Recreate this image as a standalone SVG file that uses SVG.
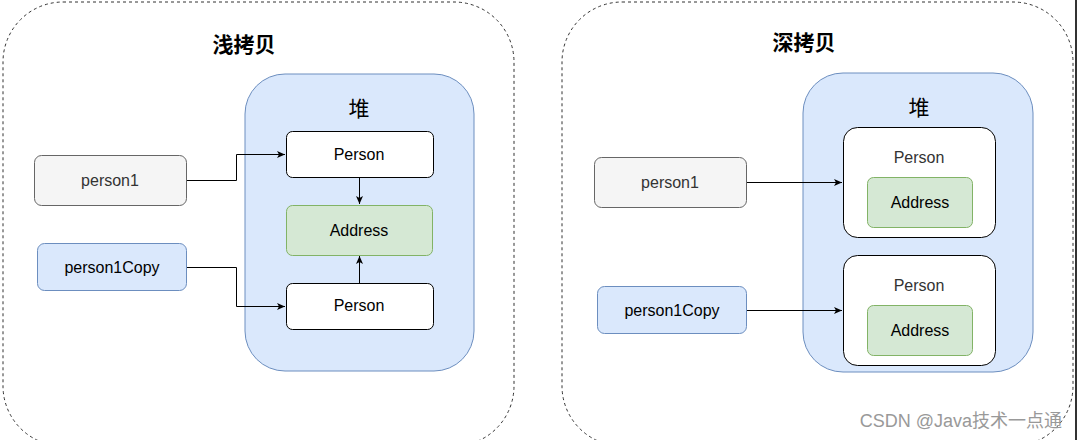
<svg xmlns="http://www.w3.org/2000/svg" width="1077" height="440" viewBox="0 0 1077 440">
<style>
.frame{fill:#fff;stroke:#333;stroke-width:1;stroke-dasharray:3 3}
.heap{fill:#dae8fc;stroke:#6c8ebf;stroke-width:1}
.obj{fill:#fff;stroke:#000;stroke-width:1}
.addr{fill:#d5e8d4;stroke:#82b366;stroke-width:1}
.var{fill:#f5f5f5;stroke:#666;stroke-width:1}
.varc{fill:#dae8fc;stroke:#6c8ebf;stroke-width:1}
.t{font-family:"Liberation Sans",Arial,sans-serif;font-size:16px;text-anchor:middle;dominant-baseline:central;fill:#000}
.tg{fill:#333}
.title{font-family:"Noto Sans CJK SC",sans-serif;font-size:21px;font-weight:bold;text-anchor:middle;dominant-baseline:central;fill:#000}
.heapt{font-family:"Noto Sans CJK SC",sans-serif;font-size:21px;text-anchor:middle;dominant-baseline:central;fill:#000}
.wm{font-family:"Liberation Sans","Noto Sans CJK SC",sans-serif;font-size:18px;fill:#999;text-anchor:end}
.c{fill:none;stroke:#000;stroke-width:1}
</style>
<defs>
<marker id="arr" markerWidth="10" markerHeight="10" refX="9" refY="5" orient="auto" markerUnits="userSpaceOnUse">
<path d="M1,1.5 L9,5 L1,8.5 L3,5 Z" fill="#000"/>
</marker>
</defs>
<rect width="1077" height="440" fill="#fff"/>

<g id="shallow-frame">
<rect class="frame" x="3" y="2" width="511" height="444" rx="60"/>
<text class="title" x="244" y="43">浅拷贝</text>
</g>
<g id="shallow-heap">
<rect class="heap" x="245" y="74" width="229" height="297" rx="40"/>
<text class="heapt" x="359" y="107">堆</text>
</g>
<g id="shallow-person1">
<rect class="var" x="34.5" y="155.5" width="152" height="50" rx="7"/>
<text class="t tg" x="110" y="180">person1</text>
</g>
<g id="shallow-person1copy">
<rect class="varc" x="37.5" y="243.5" width="149" height="47" rx="7"/>
<text class="t" x="112" y="267">person1Copy</text>
</g>
<g id="shallow-personA">
<rect class="obj" x="286.5" y="131.5" width="147" height="46" rx="6"/>
<text class="t" x="359" y="154">Person</text>
</g>
<g id="shallow-address">
<rect class="addr" x="286.5" y="205.5" width="146" height="50" rx="6"/>
<text class="t" x="359" y="230">Address</text>
</g>
<g id="shallow-personB">
<rect class="obj" x="286.5" y="283.5" width="147" height="46" rx="6"/>
<text class="t" x="359" y="305">Person</text>
</g>

<g id="deep-frame">
<rect class="frame" x="562" y="2" width="511" height="444" rx="60"/>
<text class="title" x="804" y="41">深拷贝</text>
</g>
<g id="deep-heap">
<rect class="heap" x="803" y="73" width="230" height="299" rx="40"/>
<text class="heapt" x="919" y="106">堆</text>
</g>
<g id="deep-person1">
<rect class="var" x="594.5" y="157.5" width="152" height="50" rx="7"/>
<text class="t tg" x="670" y="182">person1</text>
</g>
<g id="deep-person1copy">
<rect class="varc" x="597.5" y="286.5" width="149" height="47" rx="7"/>
<text class="t" x="672" y="310">person1Copy</text>
</g>
<g id="deep-personA">
<rect class="obj" x="843.5" y="127.5" width="152" height="110" rx="14"/>
<text class="t tg" x="919" y="157">Person</text>
<rect class="addr" x="867.5" y="177.5" width="105" height="50" rx="6"/>
<text class="t" x="920" y="202">Address</text>
</g>
<g id="deep-personB">
<rect class="obj" x="843.5" y="255.5" width="152" height="110" rx="14"/>
<text class="t tg" x="919" y="285">Person</text>
<rect class="addr" x="867.5" y="305.5" width="105" height="50" rx="6"/>
<text class="t" x="920" y="330">Address</text>
</g>

<g id="connectors">
<path class="c" d="M187,180.5 H236.5 V154.5 H285" marker-end="url(#arr)"/>
<path class="c" d="M187,267.5 H236.5 V306.5 H285" marker-end="url(#arr)"/>
<path class="c" d="M359.5,178 V204" marker-end="url(#arr)"/>
<path class="c" d="M359.5,283 V256" marker-end="url(#arr)"/>
<path class="c" d="M747,182.5 H842" marker-end="url(#arr)"/>
<path class="c" d="M747,310.5 H842" marker-end="url(#arr)"/>
</g>

<text class="wm" x="1062" y="427">CSDN @Java技术一点通</text>
<rect x="1075" y="0" width="2" height="440" fill="#333"/>
</svg>
